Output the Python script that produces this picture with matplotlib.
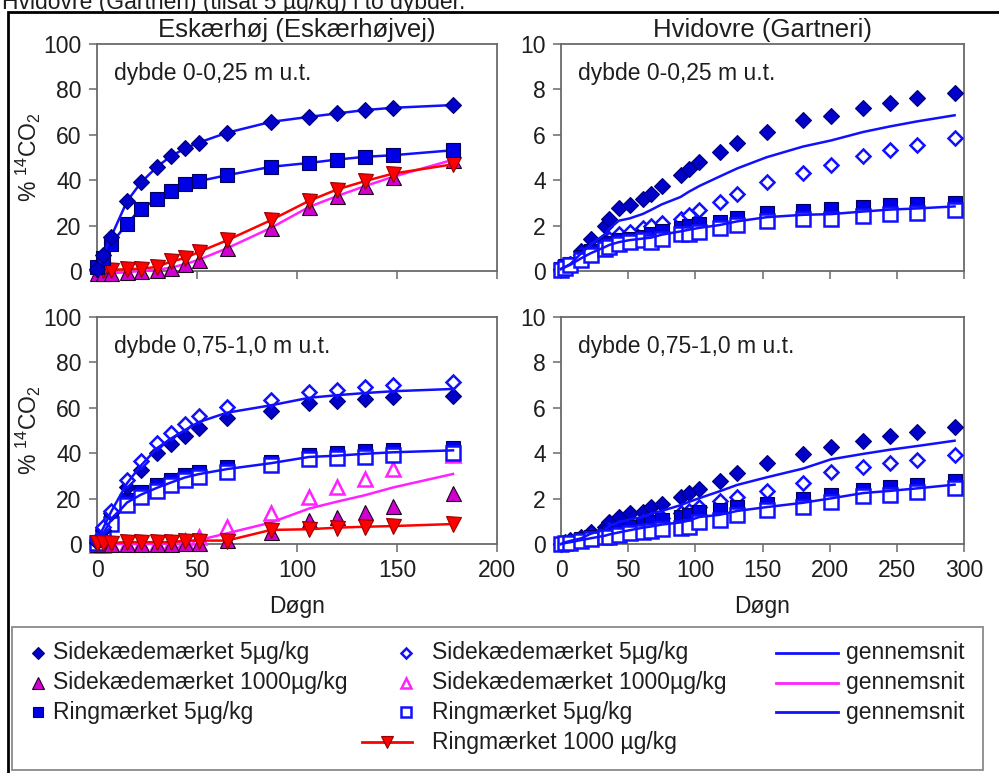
import numpy as np
import matplotlib

matplotlib.use("Agg")

import matplotlib.pyplot as plt
from matplotlib.lines import Line2D
from matplotlib.patches import Rectangle

plt.rcParams["font.family"] = ["Liberation Sans", "DejaVu Sans"]
plt.rcParams["mathtext.fontset"] = "custom"
plt.rcParams["mathtext.rm"] = "Liberation Sans"
plt.rcParams["mathtext.it"] = "Liberation Sans:italic"

W, H = 999, 773
FS = 16.5
FS_TITLE = 18.5
TEXT = "#1e1e1e"
SPINE = "#6a6a6a"
BLUE = "#1010ff"
MAGENTA = "#ff22ff"
RED = "#ff0000"
LW = 1.8

# --- Eskærhøj (Eskærhøjvej), days of sampling -------------------------------
esk_days = [0, 3, 7, 15, 22, 30, 37, 44, 51, 65, 87, 106, 120, 134, 148, 178]

# 0-0,25 m
esk_top_side5 = [1, 7, 15, 30.7, 39, 45.9, 50.6, 54, 56.6, 60.9, 65.7, 67.9, 69.4, 70.9, 71.9, 73.1]
esk_top_ring5 = [1.8, 5.9, 11.8, 20.9, 27.5, 31.6, 35.1, 38.2, 39.6, 42.2, 45.9, 47.6, 49.1, 50.3, 51.0, 53.2]
esk_top_side1000 = [-1, -1, -1, -0.5, 0, 0.5, 1.5, 3, 5, 10, 19, 28.2, 33, 37.4, 41.5, 49]
esk_top_ring1000 = [0.3, 0.5, 0.5, 0.8, 1.0, 1.8, 4.2, 5.7, 8.4, 13.5, 22.4, 30.9, 35.9, 39.6, 42.9, 47.0]

# 0,75-1,0 m
esk_bot_side5_a = [1, 6, 13.5, 25.3, 32.6, 40, 44.1, 47.6, 51.3, 55.4, 58.7, 62, 63.2, 64, 64.7, 65.4]
esk_bot_side5_b = [1.8, 7.6, 14.7, 28.2, 36.6, 44.4, 48.8, 52.8, 56.2, 60.3, 63.5, 66.8, 67.9, 69, 69.9, 71.2]
esk_bot_ring5_a = [1, 5, 12, 19.5, 23, 26, 28.2, 30.4, 31.9, 34.1, 36.3, 39.3, 40, 41, 41.5, 42.5]
esk_bot_ring5_b = [0.5, 4, 9, 17, 20.5, 23.5, 26, 28.2, 29.7, 31.9, 34.9, 37.4, 37.8, 38.5, 39.3, 40]
esk_bot_side1000_a = [0, 0, 0, 0, 0, 0, 0, 0.5, 0.5, 1.8, 5.4, 10.6, 12, 14.3, 16.9, 22.4]
esk_bot_side1000_b = [-0.5, -0.3, 0, 0, 0, 0, 0.6, 1.5, 3, 7.6, 13.5, 20.6, 25.3, 28.7, 32.9, 39.3]
esk_bot_ring1000 = [0.5, 0.5, 0.5, 0.8, 0.8, 0.8, 0.8, 1.5, 1.5, 1.5, 6.2, 6.5, 7.2, 7.6, 7.9, 8.8]

# --- Hvidovre (Gartneri) ----------------------------------------------------
hvi_days = [0, 3, 7, 15, 22, 33, 36, 43, 51, 61, 67, 75, 89, 95, 103, 118, 131, 153, 180, 201, 225, 245, 265, 293]

hvi_top_side5_a = [0.1, 0.2, 0.3, 0.87, 1.39, 1.98, 2.3, 2.78, 2.9, 3.15, 3.4, 3.74, 4.25, 4.5, 4.8, 5.26, 5.65, 6.12, 6.65, 6.82, 7.2, 7.39, 7.61, 7.86]
hvi_top_side5_b = [0.1, 0.15, 0.32, 0.69, 0.92, 1.29, 1.43, 1.65, 1.73, 1.88, 1.98, 2.13, 2.27, 2.47, 2.69, 3.06, 3.38, 3.9, 4.31, 4.68, 5.05, 5.35, 5.57, 5.86]
hvi_top_ring5_a = [0.1, 0.2, 0.3, 0.62, 0.87, 1.14, 1.24, 1.36, 1.43, 1.5, 1.65, 1.77, 1.88, 1.98, 2.07, 2.17, 2.35, 2.54, 2.66, 2.72, 2.8, 2.9, 2.94, 3.0]
hvi_top_ring5_b = [0.06, 0.15, 0.25, 0.5, 0.69, 0.99, 1.06, 1.18, 1.29, 1.36, 1.29, 1.43, 1.61, 1.65, 1.73, 1.88, 2.02, 2.2, 2.29, 2.29, 2.44, 2.51, 2.57, 2.69]

hvi_bot_side5_a = [0, 0.1, 0.18, 0.3, 0.55, 0.77, 0.99, 1.21, 1.36, 1.43, 1.62, 1.77, 2.07, 2.25, 2.42, 2.76, 3.13, 3.55, 3.95, 4.28, 4.54, 4.76, 4.94, 5.16]
hvi_bot_side5_b = [0, 0.05, 0.1, 0.2, 0.35, 0.5, 0.6, 0.7, 0.8, 0.95, 1.05, 1.15, 1.35, 1.45, 1.62, 1.88, 2.07, 2.32, 2.69, 3.18, 3.4, 3.55, 3.69, 3.94]
hvi_bot_ring5_a = [0, 0.05, 0.1, 0.2, 0.3, 0.44, 0.52, 0.62, 0.74, 0.89, 0.95, 1.06, 1.21, 1.29, 1.39, 1.51, 1.62, 1.77, 1.98, 2.17, 2.39, 2.51, 2.61, 2.76]
hvi_bot_ring5_b = [0, 0.03, 0.06, 0.15, 0.2, 0.3, 0.32, 0.4, 0.47, 0.55, 0.59, 0.65, 0.69, 0.77, 0.99, 1.06, 1.29, 1.48, 1.65, 1.85, 2.1, 2.17, 2.29, 2.47]

# marker styles: filled (_a) and open (_b) replicate
FILLED_DIAMOND = dict(marker="D", ms=7.8, mfc="#0000c8", mec="#00007a", mew=0.8)
OPEN_DIAMOND = dict(marker="D", ms=7.3, mfc="white", mec=BLUE, mew=1.8)
FILLED_SQUARE = dict(marker="s", ms=10.3, mfc="#0000e6", mec="#00005c", mew=0.8)
OPEN_SQUARE = dict(marker="s", ms=9.6, mfc="white", mec=BLUE, mew=1.8)
FILLED_TRI = dict(marker="^", ms=10.8, mfc="#d000d0", mec="#1a001a", mew=0.8)
OPEN_TRI = dict(marker="^", ms=10.3, mfc="white", mec=MAGENTA, mew=1.8)
RED_TRI = dict(marker="v", ms=10.8, mfc=RED, mec="#990000", mew=0.8)


def mean(a, b):
    return (np.asarray(a, float) + np.asarray(b, float)) / 2


def pts(ax, x, y, style, z=3):
    ax.plot(x, y, linestyle="none", clip_on=False, zorder=z, **style)


def avg(ax, x, y, color, z=4):
    ax.plot(x, y, color=color, lw=LW, clip_on=False, zorder=z)


def style_axes(ax, xmax, ymax, ystep, xlabels):
    ax.set_xlim(0, xmax)
    ax.set_ylim(0, ymax)
    ax.set_xticks(np.arange(0, xmax + 1, 50))
    ax.set_yticks(np.arange(0, ymax + 0.01, ystep))
    ax.yaxis.set_major_formatter(matplotlib.ticker.FormatStrFormatter("%d"))
    if not xlabels:
        ax.set_xticklabels([])
    else:
        ax.set_xlabel("Døgn", fontsize=FS, color=TEXT, labelpad=9)
    ax.tick_params(direction="out", length=6, width=1.1, color=SPINE,
                   labelsize=FS, labelcolor=TEXT, pad=5)
    for sp in ax.spines.values():
        sp.set_color(SPINE)
        sp.set_linewidth(1.3)


def depth_label(ax, text):
    ax.text(0.042, 0.872, text, transform=ax.transAxes, ha="left",
            va="center", fontsize=FS, color=TEXT)


fig = plt.figure(figsize=(W / 100, H / 100), dpi=100)
fig.patch.set_facecolor("white")

ax_tl = fig.add_axes([97 / W, 1 - 271 / H, 400 / W, 227 / H])
ax_tr = fig.add_axes([561 / W, 1 - 271 / H, 403 / W, 227 / H])
ax_bl = fig.add_axes([97 / W, 1 - 544 / H, 400 / W, 227 / H])
ax_br = fig.add_axes([561 / W, 1 - 544 / H, 403 / W, 227 / H])

# Eskærhøj, top layer: single replicate, joined with lines
ax_tl.plot(esk_days, esk_top_side1000, color=MAGENTA, lw=LW, clip_on=False,
           zorder=3, **FILLED_TRI)
ax_tl.plot(esk_days, esk_top_ring1000, color=RED, lw=LW, clip_on=False,
           zorder=4, **RED_TRI)
ax_tl.plot(esk_days, esk_top_ring5, color=BLUE, lw=LW, clip_on=False,
           zorder=5, **FILLED_SQUARE)
ax_tl.plot(esk_days, esk_top_side5, color=BLUE, lw=LW, clip_on=False,
           zorder=6, **FILLED_DIAMOND)

# Eskærhøj, deep layer: two replicates plus their mean
pts(ax_bl, esk_days, esk_bot_side1000_b, OPEN_TRI)
pts(ax_bl, esk_days, esk_bot_side1000_a, FILLED_TRI)
avg(ax_bl, esk_days, mean(esk_bot_side1000_a, esk_bot_side1000_b), MAGENTA)
ax_bl.plot(esk_days, esk_bot_ring1000, color=RED, lw=LW, clip_on=False,
           zorder=5, **RED_TRI)
pts(ax_bl, esk_days, esk_bot_ring5_a, FILLED_SQUARE)
pts(ax_bl, esk_days, esk_bot_ring5_b, OPEN_SQUARE)
avg(ax_bl, esk_days, mean(esk_bot_ring5_a, esk_bot_ring5_b), BLUE)
pts(ax_bl, esk_days, esk_bot_side5_a, FILLED_DIAMOND)
pts(ax_bl, esk_days, esk_bot_side5_b, OPEN_DIAMOND)
avg(ax_bl, esk_days, mean(esk_bot_side5_a, esk_bot_side5_b), BLUE)

# Hvidovre, both layers
for ax, s_a, s_b, r_a, r_b in (
    (ax_tr, hvi_top_side5_a, hvi_top_side5_b, hvi_top_ring5_a, hvi_top_ring5_b),
    (ax_br, hvi_bot_side5_a, hvi_bot_side5_b, hvi_bot_ring5_a, hvi_bot_ring5_b),
):
    pts(ax, hvi_days, s_a, FILLED_DIAMOND)
    pts(ax, hvi_days, s_b, OPEN_DIAMOND)
    pts(ax, hvi_days, r_a, FILLED_SQUARE)
    pts(ax, hvi_days, r_b, OPEN_SQUARE)
    avg(ax, hvi_days, mean(s_a, s_b), BLUE)
    avg(ax, hvi_days, mean(r_a, r_b), BLUE)

style_axes(ax_tl, 200, 100, 20, False)
style_axes(ax_bl, 200, 100, 20, True)
style_axes(ax_tr, 300, 10, 2, False)
style_axes(ax_br, 300, 10, 2, True)

depth_label(ax_tl, "dybde 0-0,25 m u.t.")
depth_label(ax_tr, "dybde 0-0,25 m u.t.")
depth_label(ax_bl, "dybde 0,75-1,0 m u.t.")
depth_label(ax_br, "dybde 0,75-1,0 m u.t.")

for ax in (ax_tl, ax_bl):
    ax.set_ylabel("% $^{14}$CO$_2$", fontsize=FS, color=TEXT)
    ax.yaxis.set_label_coords(-0.135, 0.5)

ax_tl.set_title("Eskærhøj (Eskærhøjvej)", fontsize=FS_TITLE, color=TEXT, pad=5)
ax_tr.set_title("Hvidovre (Gartneri)", fontsize=FS_TITLE, color=TEXT, pad=5)

# caption line running off the top edge
fig.text(2 / W, 1 - 9 / H, "Hvidovre (Gartneri) (tilsat 5 µg/kg) i to dybder.",
         fontsize=FS, color=TEXT, va="baseline", ha="left")

# outer frame (only top and left edges fall inside the canvas)
fig.add_artist(Rectangle((8 / W, -0.5), 2, 0.5 + 1 - 12 / H,
                         transform=fig.transFigure, fill=False,
                         edgecolor="black", lw=2))

# legend box
fig.add_artist(Rectangle((12 / W, 1 - 770 / H), 971 / W, 143 / H,
                         transform=fig.transFigure, fill=False,
                         edgecolor="#8a8a8a", lw=1.3))

rows_y = [653, 683, 712, 742]


def fx(px):
    return px / W


def fy(py):
    return 1 - py / H


def legend_marker(x, row, style):
    st = dict(style)
    st["ms"] = st["ms"] * 0.75
    fig.add_artist(Line2D([fx(x)], [fy(rows_y[row])], transform=fig.transFigure,
                          linestyle="none", **st))


def legend_line(x0, x1, row, color, style=None):
    fig.add_artist(Line2D([fx(x0), fx(x1)], [fy(rows_y[row])] * 2,
                          transform=fig.transFigure, color=color, lw=2))
    if style:
        st = dict(style)
        st["ms"] = st["ms"] * 0.75
        fig.add_artist(Line2D([fx((x0 + x1) / 2)], [fy(rows_y[row])],
                              transform=fig.transFigure, linestyle="none", **st))


def legend_text(x, row, text):
    fig.text(fx(x), fy(rows_y[row]), text, fontsize=FS, color=TEXT,
             ha="left", va="center")


col1 = [(FILLED_DIAMOND, "Sidekædemærket 5µg/kg"),
        (FILLED_TRI, "Sidekædemærket 1000µg/kg"),
        (FILLED_SQUARE, "Ringmærket 5µg/kg")]
col2 = [(OPEN_DIAMOND, "Sidekædemærket 5µg/kg"),
        (OPEN_TRI, "Sidekædemærket 1000µg/kg"),
        (OPEN_SQUARE, "Ringmærket 5µg/kg")]
col3 = [BLUE, MAGENTA, BLUE]

for i, (st, label) in enumerate(col1):
    legend_marker(38, i, st)
    legend_text(53, i, label)
for i, (st, label) in enumerate(col2):
    legend_marker(406, i, st)
    legend_text(432, i, label)
legend_line(362, 412, 3, RED, RED_TRI)
legend_text(432, 3, "Ringmærket 1000 µg/kg")
for i, color in enumerate(col3):
    legend_line(776, 838, i, color)
    legend_text(846, i, "gennemsnit")

fig.savefig("out.png", dpi=100, facecolor="white")
